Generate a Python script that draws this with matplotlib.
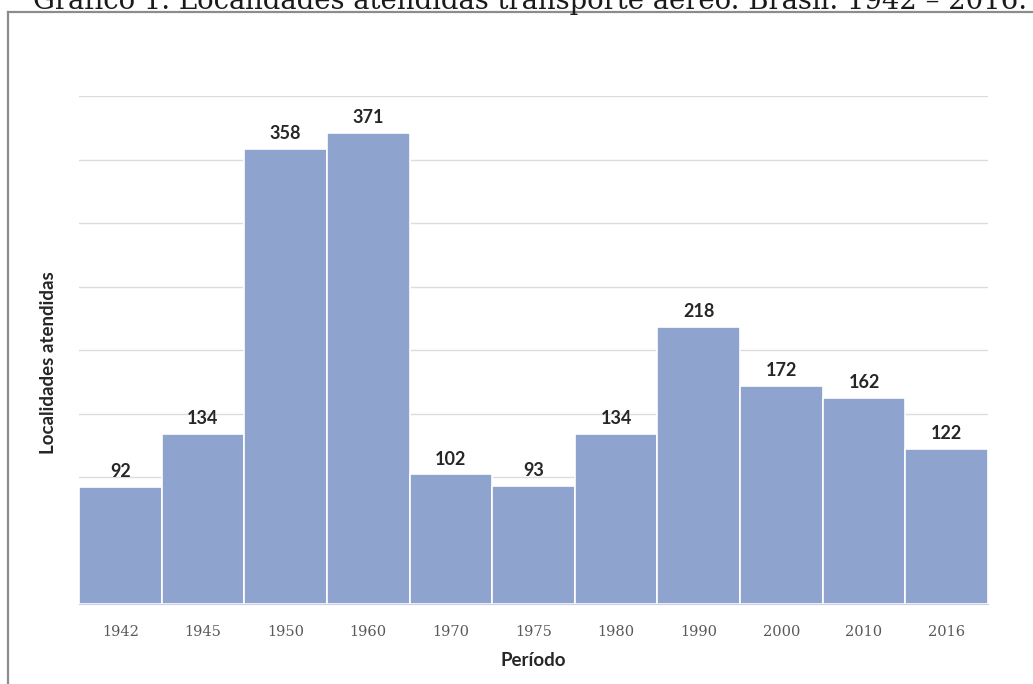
import matplotlib
matplotlib.use("Agg")
import matplotlib.pyplot as plt
from matplotlib.lines import Line2D

# dados do gráfico
periodos = ["1942", "1945", "1950", "1960", "1970", "1975", "1980", "1990", "2000", "2010", "2016"]
localidades = [92, 134, 358, 371, 102, 93, 134, 218, 172, 162, 122]

titulo = "Gráfico 1. Localidades atendidas transporte aéreo. Brasil. 1942 – 2016."

fig = plt.figure(figsize=(10.33, 6.84), dpi=100)
ax = fig.add_axes([79 / 1033, 1 - 604 / 684, 909 / 1033, 508 / 684])

x = range(len(periodos))
bars = ax.bar(x, localidades, width=1.0, color="#8EA4CF", edgecolor="white", linewidth=1.2, zorder=2)

# rótulos de valor
for b, v in zip(bars, localidades):
    ax.annotate(str(v), (b.get_x() + b.get_width() / 2, v), xytext=(0, 5), textcoords="offset points",
                ha="center", va="bottom", fontsize=13, fontweight="bold", family="Lato", color="#262626")

ax.set_xlim(-0.5, len(periodos) - 0.5)
ax.set_ylim(0, 400)
ax.set_yticks(range(50, 401, 50))
ax.set_yticklabels([])
ax.grid(axis="y", color="#DCDCDC", linewidth=1, zorder=0)
ax.set_xticks(list(x))
ax.set_xticklabels(periodos, family="DejaVu Serif", fontsize=10.5, color="#595959")
ax.tick_params(axis="x", length=0, pad=15)
ax.tick_params(axis="y", length=0)
for s in ["top", "right", "left"]:
    ax.spines[s].set_visible(False)
ax.spines["bottom"].set_color("#C9D3E8")

ax.set_xlabel("Período", fontsize=13.5, fontweight="bold", family="Lato", color="#262626")
ax.set_ylabel("Localidades atendidas", fontsize=13.5, fontweight="bold", family="Lato", color="#262626")
ax.xaxis.set_label_coords(0.4995, -0.094)
ax.yaxis.set_label_coords(-0.034, 0.476)
ax.yaxis.label.set_va("center")

# moldura
fig.add_artist(Line2D([8 / 1033, 8 / 1033], [0, 1 - 12 / 684], transform=fig.transFigure, color="#8C8C8C", lw=1.6))
fig.add_artist(Line2D([8 / 1033, 1], [1 - 12 / 684, 1 - 12 / 684], transform=fig.transFigure, color="#8C8C8C", lw=1.6))

# título cortado no topo
t = fig.text(33 / 1033, 1 - 9 / 684, titulo, family="DejaVu Serif", fontsize=20, va="baseline", ha="left", color="#1A1A1A")
fig.canvas.draw()
w = t.get_window_extent().width
t.set_fontsize(20 * 997 / w)

fig.savefig("out.png", dpi=100)
